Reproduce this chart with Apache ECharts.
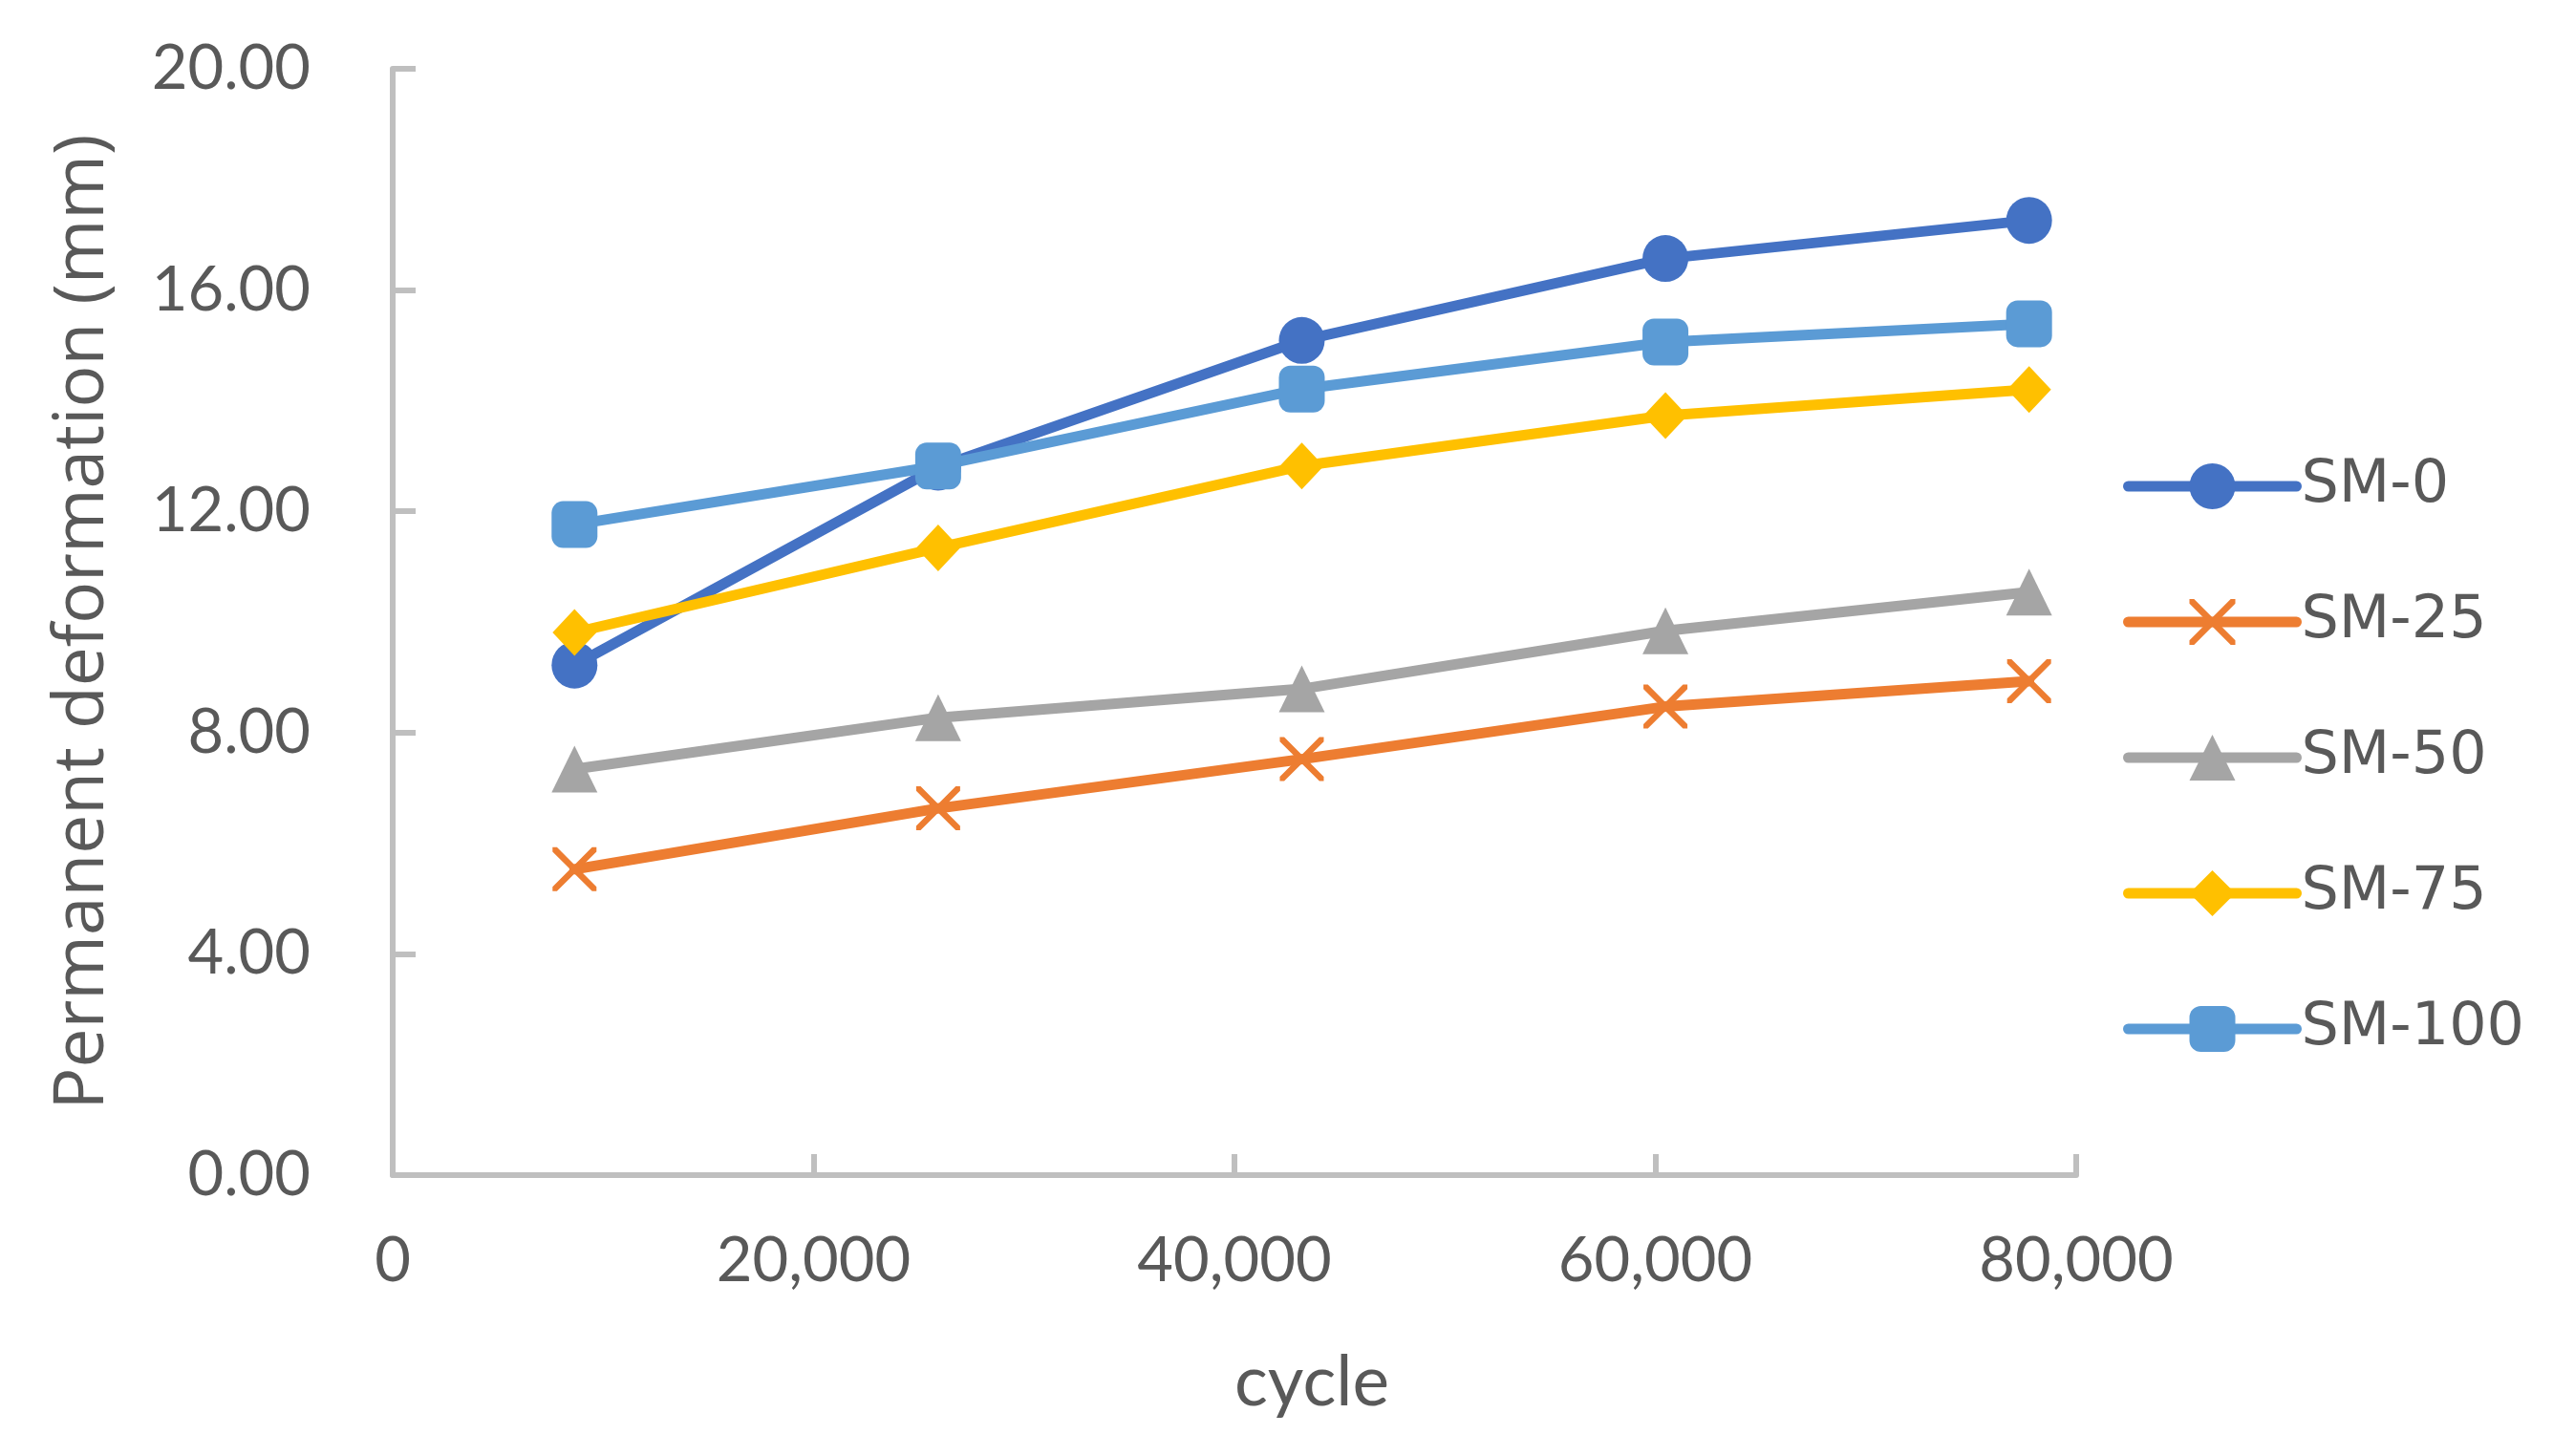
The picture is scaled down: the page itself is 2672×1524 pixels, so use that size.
<!DOCTYPE html>
<html>
<head>
<meta charset="utf-8">
<script src="https://cdn.jsdelivr.net/npm/echarts@6/dist/echarts.min.js"></script>
<style>
  html, body { margin: 0; padding: 0; background: #ffffff; }
  #chart { width: 2672px; height: 1524px; }
</style>
</head>
<body>
<div id="chart"></div>
<script>
// Data
const cycles = [8640, 25920, 43200, 60480, 77760];
const seriesNames = ['SM-0', 'SM-25', 'SM-50', 'SM-75', 'SM-100'];
const sm0   = [9.22, 12.80, 15.09, 16.57, 17.26];
const sm25  = [5.53, 6.63, 7.52, 8.47, 8.93];
const sm50  = [7.34, 8.27, 8.79, 9.84, 10.54];
const sm75  = [9.81, 11.34, 12.82, 13.73, 14.20];
const sm100 = [11.76, 12.82, 14.21, 15.06, 15.39];
const yTicks = [0, 4, 8, 12, 16, 20];
const xTicks = [0, 20000, 40000, 60000, 80000];

const colors = ['#4472C4', '#ED7D31', '#A5A5A5', '#FFC000', '#5B9BD5'];
const xPath = 'path://M0,0 L2,0 L10,8 L18,0 L20,0 L20,2 L12,10 L20,18 L20,20 L18,20 L10,12 L2,20 L0,20 L0,18 L8,10 L0,2 Z';
const symbols = ['circle', xPath, 'triangle', 'diamond', 'roundRect'];
const symbolSizes = [[48, 49], [46, 46], [48, 49], [46, 49], [48, 49]];
const values = [sm0, sm25, sm50, sm75, sm100];

const FONT = 'Lato';
const TXT = '#595959';
const AX = '#BFBFBF';

const chart = echarts.init(document.getElementById('chart'));
chart.setOption({
  backgroundColor: '#ffffff',
  animation: false,
  textStyle: { fontFamily: FONT, color: TXT },
  grid: { left: 411, right: 499, top: 72, bottom: 294, containLabel: false },
  legend: {
    orient: 'vertical',
    left: 2217,
    top: 473,
    itemWidth: 176,
    itemHeight: 60,
    itemGap: 80,
    data: seriesNames,
    lineStyle: { width: 11, cap: 'round' },
    textStyle: { fontFamily: 'DejaVu Sans', fontSize: 62, color: TXT }
  },
  xAxis: {
    type: 'value',
    min: xTicks[0],
    max: xTicks[xTicks.length - 1],
    interval: 20000,
    name: 'cycle',
    nameLocation: 'middle',
    nameGap: 181,
    nameTextStyle: { fontFamily: FONT, fontSize: 73, color: TXT, padding: [0, 0, 0, 162] },
    axisLine: { show: true, lineStyle: { color: AX, width: 6 } },
    axisTick: { show: true, inside: true, length: 22, lineStyle: { color: AX, width: 6 } },
    splitLine: { show: false },
    axisLabel: {
      margin: 58,
      fontFamily: FONT, fontSize: 65, color: TXT,
      formatter: v => v.toLocaleString('en-US')
    }
  },
  yAxis: {
    type: 'value',
    min: yTicks[0],
    max: yTicks[yTicks.length - 1],
    interval: 4,
    name: 'Permanent deformation (mm)',
    nameLocation: 'middle',
    nameGap: 287,
    nameRotate: 90,
    nameTextStyle: { fontFamily: 'Open Sans', fontSize: 73, color: TXT },
    axisLine: { show: true, lineStyle: { color: AX, width: 6 } },
    axisTick: { show: true, inside: true, length: 24, lineStyle: { color: AX, width: 6 } },
    splitLine: { show: false },
    axisLabel: {
      margin: 86,
      fontFamily: FONT, fontSize: 65, color: TXT,
      formatter: v => v.toFixed(2)
    }
  },
  series: seriesNames.map((name, i) => ({
    name: name,
    type: 'line',
    data: cycles.map((c, j) => [c, values[i][j]]),
    symbol: symbols[i],
    symbolSize: symbolSizes[i],
    showAllSymbol: true,
    lineStyle: { color: colors[i], width: 11, cap: 'round', join: 'round' },
    itemStyle: { color: colors[i], borderWidth: 0 },
    color: colors[i],
    emphasis: { disabled: true }
  }))
});
</script>
</body>
</html>
